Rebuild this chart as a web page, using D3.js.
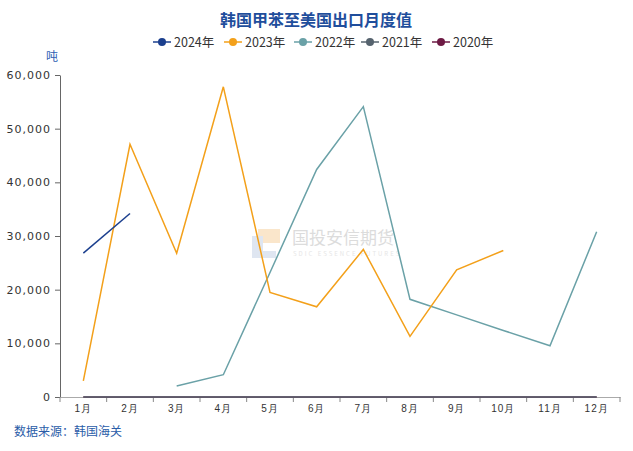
<!DOCTYPE html>
<html><head><meta charset="utf-8">
<script src="https://cdn.jsdelivr.net/npm/d3@7"></script>
<style>body{margin:0;background:#fff;}svg{display:block;font-family:"Noto Sans CJK SC","Noto Sans",sans-serif;}</style>
</head><body><svg id="c" width="633" height="451"></svg>
<script>
const months = ["1月","2月","3月","4月","5月","6月","7月","8月","9月","10月","11月","12月"];
const seriesNames = ["2024年","2023年","2022年","2021年","2020年"];
const seriesColors = ["#1b3f8e","#f3a01a","#6aa1a7","#56636e","#6d1a44"];
const v2024 = [26800, 34200, null, null, null, null, null, null, null, null, null, null];
const v2023 = [3000, 47100, 26800, 57800, 19500, 16800, 27500, 11300, 23700, 27300, null, null];
const v2022 = [null, null, 2050, 4150, 23200, 42400, 54100, 18200, 15300, 12400, 9550, 30800];
const v2021 = [0, 0, 0, 0, 0, 0, 0, 0, 0, 0, 0, 0];
const v2020 = [0, 0, 0, 0, 0, 0, 0, 0, 0, 0, 0, 0];
const yTicks = [0, 10000, 20000, 30000, 40000, 50000, 60000];
const title = "韩国甲苯至美国出口月度值";
const unit = "吨";
const source = "数据来源：韩国海关";

const svg = d3.select("#c");
const L = 60, R = 620, T = 75, B = 397;
const x = d3.scaleBand().domain(months).range([L, R]);
const y = d3.scaleLinear().domain([0, 60000]).range([B, T]);

// watermark
const wm = svg.append("g");
wm.append("rect").attr("x", 258).attr("y", 229).attr("width", 22).attr("height", 14).attr("fill", "#fae6cb");
wm.append("rect").attr("x", 252).attr("y", 236).attr("width", 11).attr("height", 22).attr("fill", "#dfe6f1");
wm.append("rect").attr("x", 252).attr("y", 251).attr("width", 24).attr("height", 7).attr("fill", "#dfe6f1");
wm.append("text").attr("x", 292).attr("y", 244).attr("font-size", 17).attr("fill", "#dcdcdc").text("国投安信期货");
wm.append("text").attr("x", 293).attr("y", 256).attr("font-size", 6).attr("letter-spacing", 2).attr("fill", "#e6e6e6").text("SDIC ESSENCE FUTURES");

// title
svg.append("text").attr("x", 316).attr("y", 26).attr("text-anchor", "middle")
  .attr("font-size", 16).attr("font-weight", "bold").attr("fill", "#1f4e9c").text(title);

// legend
const legendX = [153, 224, 294, 361, 432];
seriesNames.forEach((n, i) => {
  const g = svg.append("g").attr("transform", `translate(${legendX[i]},42)`);
  g.append("line").attr("x1", 0).attr("x2", 18).attr("y1", 0).attr("y2", 0).attr("stroke", seriesColors[i]).attr("stroke-width", 1.5);
  g.append("circle").attr("cx", 9).attr("cy", 0).attr("r", 4).attr("fill", seriesColors[i]);
  g.append("text").attr("x", 21).attr("y", 4.5).attr("font-size", 12.5).attr("fill", "#333").text(n);
});

// unit
svg.append("text").attr("x", 52).attr("y", 61).attr("text-anchor", "middle").attr("font-size", 12).attr("fill", "#2f5fb3").text(unit);

// y axis
const yAxis = svg.append("g").attr("transform", `translate(${L},0)`)
  .call(d3.axisLeft(y).tickValues(yTicks).tickSize(5).tickSizeOuter(0).tickFormat(d3.format(",")));
yAxis.select(".domain").attr("stroke", "#666");
yAxis.selectAll(".tick line").attr("stroke", "#666");
yAxis.selectAll(".tick text").attr("font-size", 11).attr("fill", "#333").attr("letter-spacing", 1)
  .attr("font-family", "'DejaVu Sans','Noto Sans',sans-serif").attr("dx", -1);

// x axis
const xAxis = svg.append("g").attr("transform", `translate(0,${B})`)
  .call(d3.axisBottom(x).tickSize(0).tickSizeOuter(0));
xAxis.select(".domain").attr("stroke", "#aaa");
xAxis.selectAll(".tick text").attr("font-size", 10).attr("fill", "#333").attr("dy", "1.2em").attr("letter-spacing", 1);
const bounds = months.map(m => x(m) + x.bandwidth()).concat([L]);
xAxis.selectAll(".bnd").data(bounds).enter().append("line")
  .attr("x1", d => d).attr("x2", d => d).attr("y1", 0).attr("y2", 5).attr("stroke", "#888");

// lines
const allSeries = [v2024, v2023, v2022, v2021, v2020];
const line = d3.line().defined(d => d != null)
  .x((d, i) => x(months[i]) + x.bandwidth() / 2).y(d => y(d));
[4, 3, 2, 1, 0].forEach(i => {
  svg.append("path").datum(allSeries[i]).attr("d", line).attr("fill", "none")
    .attr("stroke", seriesColors[i]).attr("stroke-width", 1.5);
});

// source
svg.append("text").attr("x", 14).attr("y", 436).attr("font-size", 12).attr("fill", "#2a5ca8").text(source);
</script></body></html>
